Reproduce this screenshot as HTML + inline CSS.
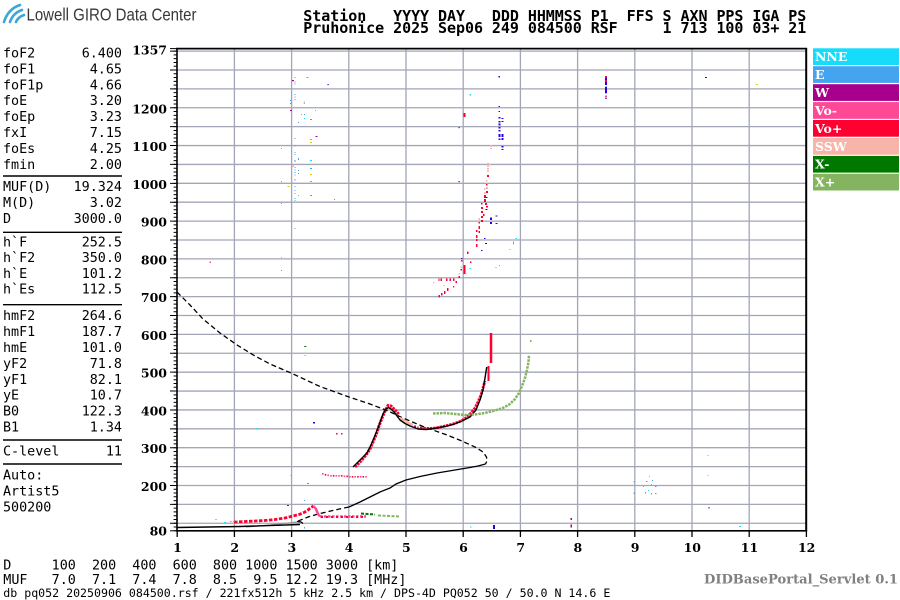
<!DOCTYPE html>
<html><head><meta charset="utf-8"><style>
html,body{margin:0;padding:0;background:#fff;}
svg{display:block;}
.mono{font-family:"DejaVu Sans Mono","Liberation Mono",monospace;font-size:13.4px;fill:#000;}
.ser{font-family:"DejaVu Serif","Liberation Serif",serif;font-weight:bold;font-size:12.5px;fill:#000;}
.r{fill:#ff0030}.p{fill:#ff4896}.s{fill:#f8b4a8}.b{fill:#2800f0}.c{fill:#14dcfa}.e{fill:#44a4f0}.w{fill:#a8008c}.y{fill:#d4d400}.g{fill:#007800}.l{fill:#84b460}.d{fill:#a00020}
</style></head><body>
<svg width="900" height="600" viewBox="0 0 900 600" xmlns="http://www.w3.org/2000/svg">
<rect width="900" height="600" fill="#fff"/>
<!-- logo -->
<g fill="none" stroke="#3ea6d6" stroke-width="2.6" stroke-linecap="round">
<path d="M4,22 Q8,9 20,5"/><path d="M10,22 Q13,13 22,10"/><path d="M16,22 Q18,17 24,15"/>
</g>
<text x="26.5" y="20.7" font-family="'Liberation Sans Narrow','Liberation Sans',sans-serif" font-size="17.5" fill="#383838" textLength="170" lengthAdjust="spacingAndGlyphs">Lowell GIRO Data Center</text>
<!-- header -->
<g font-family="'DejaVu Sans Mono','Liberation Mono',monospace" font-weight="bold" font-size="15" fill="#000" style="white-space:pre">
<text x="303.3" y="21" textLength="503" lengthAdjust="spacing" xml:space="preserve">Station   YYYY DAY   DDD HHMMSS P1  FFS S AXN PPS IGA PS</text>
<text x="303.3" y="33" textLength="503" lengthAdjust="spacing" xml:space="preserve">Pruhonice 2025 Sep06 249 084500 RSF     1 713 100 03+ 21</text>
</g>
<!-- left panel -->
<g class="mono">
<text x="3" y="57.5">foF2</text><text x="122" y="57.5" text-anchor="end">6.400</text>
<text x="3" y="73.4">foF1</text><text x="122" y="73.4" text-anchor="end">4.65</text>
<text x="3" y="89.3">foF1p</text><text x="122" y="89.3" text-anchor="end">4.66</text>
<text x="3" y="105.2">foE</text><text x="122" y="105.2" text-anchor="end">3.20</text>
<text x="3" y="121.1">foEp</text><text x="122" y="121.1" text-anchor="end">3.23</text>
<text x="3" y="137">fxI</text><text x="122" y="137" text-anchor="end">7.15</text>
<text x="3" y="152.9">foEs</text><text x="122" y="152.9" text-anchor="end">4.25</text>
<text x="3" y="168.8">fmin</text><text x="122" y="168.8" text-anchor="end">2.00</text>
<text x="3" y="191.2">MUF(D)</text><text x="122" y="191.2" text-anchor="end">19.324</text>
<text x="3" y="207.1">M(D)</text><text x="122" y="207.1" text-anchor="end">3.02</text>
<text x="3" y="223">D</text><text x="122" y="223" text-anchor="end">3000.0</text>
<text x="3" y="246.5">h`F</text><text x="122" y="246.5" text-anchor="end">252.5</text>
<text x="3" y="262.2">h`F2</text><text x="122" y="262.2" text-anchor="end">350.0</text>
<text x="3" y="277.8">h`E</text><text x="122" y="277.8" text-anchor="end">101.2</text>
<text x="3" y="293.3">h`Es</text><text x="122" y="293.3" text-anchor="end">112.5</text>
<text x="3" y="320.2">hmF2</text><text x="122" y="320.2" text-anchor="end">264.6</text>
<text x="3" y="336.1">hmF1</text><text x="122" y="336.1" text-anchor="end">187.7</text>
<text x="3" y="352">hmE</text><text x="122" y="352" text-anchor="end">101.0</text>
<text x="3" y="367.9">yF2</text><text x="122" y="367.9" text-anchor="end">71.8</text>
<text x="3" y="383.8">yF1</text><text x="122" y="383.8" text-anchor="end">82.1</text>
<text x="3" y="399.7">yE</text><text x="122" y="399.7" text-anchor="end">10.7</text>
<text x="3" y="415.6">B0</text><text x="122" y="415.6" text-anchor="end">122.3</text>
<text x="3" y="431.5">B1</text><text x="122" y="431.5" text-anchor="end">1.34</text>
<text x="3" y="455.5">C-level</text><text x="122" y="455.5" text-anchor="end">11</text>
<text x="3" y="479.5">Auto:</text>
<text x="3" y="495.4">Artist5</text>
<text x="3" y="511.3">500200</text>
</g>
<g stroke="#000" stroke-width="1.4">
<line x1="3" y1="176" x2="122" y2="176"/><line x1="3" y1="232.3" x2="122" y2="232.3"/>
<line x1="3" y1="304.7" x2="122" y2="304.7"/><line x1="3" y1="440" x2="122" y2="440"/>
<line x1="3" y1="464" x2="122" y2="464"/>
</g>
<!-- grid -->
<g stroke="#a2a6b6" stroke-width="1.3">
<line x1="234.4" y1="49" x2="234.4" y2="530"/><line x1="291.6" y1="49" x2="291.6" y2="530"/>
<line x1="348.8" y1="49" x2="348.8" y2="530"/><line x1="406" y1="49" x2="406" y2="530"/>
<line x1="463.2" y1="49" x2="463.2" y2="530"/><line x1="520.4" y1="49" x2="520.4" y2="530"/>
<line x1="577.6" y1="49" x2="577.6" y2="530"/><line x1="634.8" y1="49" x2="634.8" y2="530"/>
<line x1="692" y1="49" x2="692" y2="530"/><line x1="749.2" y1="49" x2="749.2" y2="530"/>
<line x1="177" y1="523.25" x2="806" y2="523.25"/><line x1="177" y1="504.36" x2="806" y2="504.36"/>
<line x1="177" y1="485.48" x2="806" y2="485.48"/><line x1="177" y1="466.59" x2="806" y2="466.59"/>
<line x1="177" y1="447.71" x2="806" y2="447.71"/><line x1="177" y1="428.82" x2="806" y2="428.82"/>
<line x1="177" y1="409.94" x2="806" y2="409.94"/><line x1="177" y1="391.05" x2="806" y2="391.05"/>
<line x1="177" y1="372.17" x2="806" y2="372.17"/><line x1="177" y1="353.28" x2="806" y2="353.28"/>
<line x1="177" y1="334.4" x2="806" y2="334.4"/><line x1="177" y1="315.51" x2="806" y2="315.51"/>
<line x1="177" y1="296.63" x2="806" y2="296.63"/><line x1="177" y1="277.74" x2="806" y2="277.74"/>
<line x1="177" y1="258.86" x2="806" y2="258.86"/><line x1="177" y1="239.97" x2="806" y2="239.97"/>
<line x1="177" y1="221.09" x2="806" y2="221.09"/><line x1="177" y1="202.2" x2="806" y2="202.2"/>
<line x1="177" y1="183.32" x2="806" y2="183.32"/><line x1="177" y1="164.43" x2="806" y2="164.43"/>
<line x1="177" y1="145.55" x2="806" y2="145.55"/><line x1="177" y1="126.66" x2="806" y2="126.66"/>
<line x1="177" y1="107.78" x2="806" y2="107.78"/><line x1="177" y1="88.89" x2="806" y2="88.89"/>
<line x1="177" y1="70.01" x2="806" y2="70.01"/><line x1="177" y1="51.12" x2="806" y2="51.12"/>
</g>
<!-- y ticks -->
<path d="M175.3,531.3 L175.3,50" stroke="#000" stroke-width="3.4" stroke-dasharray="1 2.777" fill="none"/>
<path d="M173.5,523.75 L173.5,50" stroke="#000" stroke-width="7" stroke-dasharray="1 17.885" fill="none"/>
<line x1="170" y1="48.6" x2="177" y2="48.6" stroke="#000" stroke-width="1"/>
<line x1="170" y1="530.8" x2="177" y2="530.8" stroke="#000" stroke-width="1"/>
<g class="ser" text-anchor="end">
<text x="167" y="54.5">1357</text><text x="167" y="113.3">1200</text><text x="167" y="151">1100</text>
<text x="167" y="188.8">1000</text><text x="167" y="226.6">900</text><text x="167" y="264.4">800</text>
<text x="167" y="302.1">700</text><text x="167" y="339.9">600</text><text x="167" y="377.7">500</text>
<text x="167" y="415.4">400</text><text x="167" y="453.2">300</text><text x="167" y="491">200</text>
<text x="167" y="535.5">80</text>
</g>
<!-- x ticks and labels -->
<g stroke="#000" stroke-width="1.3">
<line x1="177.2" y1="530" x2="177.2" y2="537"/><line x1="234.4" y1="530" x2="234.4" y2="537"/>
<line x1="291.6" y1="530" x2="291.6" y2="537"/><line x1="348.8" y1="530" x2="348.8" y2="537"/>
<line x1="406" y1="530" x2="406" y2="537"/><line x1="463.2" y1="530" x2="463.2" y2="537"/>
<line x1="520.4" y1="530" x2="520.4" y2="537"/><line x1="577.6" y1="530" x2="577.6" y2="537"/>
<line x1="634.8" y1="530" x2="634.8" y2="537"/><line x1="692" y1="530" x2="692" y2="537"/>
<line x1="749.2" y1="530" x2="749.2" y2="537"/><line x1="806.4" y1="530" x2="806.4" y2="537"/>
</g>
<g class="ser" text-anchor="middle">
<text x="177.5" y="552">1</text><text x="234.7" y="552">2</text><text x="291.9" y="552">3</text>
<text x="349.1" y="552">4</text><text x="406.3" y="552">5</text><text x="463.5" y="552">6</text>
<text x="520.7" y="552">7</text><text x="577.9" y="552">8</text><text x="635.1" y="552">9</text>
<text x="692.3" y="552">10</text><text x="749.5" y="552">11</text><text x="806.7" y="552">12</text>
</g>
<!-- frame -->
<g stroke="#000" fill="none">
<line x1="176" y1="48.6" x2="807" y2="48.6" stroke-width="1.8"/>
<line x1="177" y1="48" x2="177" y2="531.5" stroke-width="1.6"/>
<line x1="176" y1="530.8" x2="807" y2="530.8" stroke-width="1.6"/>
<line x1="806.2" y1="48" x2="806.2" y2="531.5" stroke-width="2"/>
</g>
<!-- model curves -->
<polyline fill="none" stroke="#000" stroke-width="1.3" stroke-dasharray="5 3" points="177,292 190,305 203,319 220,333 237,345 255,356 270,364 291,373 320,386.5 349,397 370,404 387,410.5 403,418 423,426.5 447,435 463,441.5 476,447.5 483,452 486.5,457 487,461 485.5,464"/>
<polyline fill="none" stroke="#000" stroke-width="1.3" points="485.5,464 478,466 470,467.5 455,470 437,473 420,476.5 406,480 396,484 390,488 380,492 370,497 360,502 349,507"/>
<polyline fill="none" stroke="#000" stroke-width="1.3" stroke-dasharray="5 3" points="349,507 335,510 320,513.5 308,517 297,521.5"/>
<polyline fill="none" stroke="#999" stroke-width="1.3" points="246,527 270,525 297,522"/>
<polyline fill="none" stroke="#000" stroke-width="1.4" points="177,527.5 240,526.5 300,524.5"/>
<polyline fill="none" stroke="#000" stroke-width="1.3" points="297,521.5 301,522 303,523.5"/>
<!-- E region trace -->
<polyline fill="none" stroke="#ff0030" stroke-width="2.8" stroke-dasharray="3.5 1.5" points="234,522 245,521.5 255,521 265,520.5 275,519.5 285,518 293,516 299,514.5 304,512.5 308,510 311,507.5 313.5,506"/>
<polyline fill="none" stroke="#ff4896" stroke-width="2.5" points="313.5,506 316,509 318,514 320,516.5"/>
<polyline fill="none" stroke="#ff4896" stroke-width="2.6" stroke-dasharray="2.5 1.5" points="320,516.5 366,516.5"/>
<polyline fill="none" stroke="#ff0030" stroke-width="2" stroke-dasharray="2 3" points="321,517 366,517"/>
<polyline fill="none" stroke="#007800" stroke-width="2" stroke-dasharray="3 1.5" points="361,513.5 368,514 375,514.5"/>
<polyline fill="none" stroke="#84b460" stroke-width="2" stroke-dasharray="3 1.5" points="378,515.5 390,516 400,516.5"/>
<!-- Vo- trace ~475 -->
<g>
<rect class="p" x="322" y="473" width="1.6" height="1.6"/><rect class="r" x="324.7" y="474" width="1.6" height="1.6"/>
<rect class="p" x="327.4" y="474.5" width="1.6" height="1.6"/><rect class="p" x="330.1" y="475" width="1.6" height="1.6"/>
<rect class="r" x="332.8" y="475" width="1.6" height="1.6"/><rect class="p" x="335.5" y="475" width="1.6" height="1.6"/>
<rect class="p" x="338.2" y="475" width="1.6" height="1.6"/><rect class="r" x="340.9" y="475" width="1.6" height="1.6"/>
<rect class="p" x="343.6" y="475.5" width="1.6" height="1.6"/><rect class="r" x="346.3" y="475.5" width="1.6" height="1.6"/>
<rect class="p" x="349" y="476" width="1.6" height="1.6"/><rect class="r" x="351.7" y="476" width="1.6" height="1.6"/>
<rect class="p" x="354.4" y="476" width="1.6" height="1.6"/><rect class="r" x="357.1" y="476" width="1.6" height="1.6"/>
<rect class="p" x="359.8" y="476" width="1.6" height="1.6"/><rect class="r" x="362.5" y="476" width="1.6" height="1.6"/>
<rect class="p" x="365.2" y="476" width="1.6" height="1.6"/>
</g>
<!-- F trace -->
<polyline fill="none" stroke="#ff0030" stroke-width="3" stroke-dasharray="2.5 0.8" points="355,467 361,461 366,455 370,449 373,442 376,435 379,426 382,418 385,411 388,405.5 391,406 394,409 397,412 399,415"/>
<polyline fill="none" stroke="#f8b4a8" stroke-width="2.6" points="400,418 405,421 410,424 413,425"/>
<rect class="w" x="414" y="425.5" width="2" height="2"/><rect class="p" x="417" y="426.5" width="2" height="2"/>
<polyline fill="none" stroke="#ff0030" stroke-width="2.8" stroke-dasharray="2.5 0.8" points="420,428 428,428.5 436,428 445,426 453,424 460,421.5 466,418 471,413 475,408 478,402 481,395 483,388 485,381"/>
<line x1="488.5" y1="366" x2="488.5" y2="381" stroke="#ff0030" stroke-width="2"/>
<line x1="491" y1="333" x2="491" y2="363" stroke="#ff0030" stroke-width="2.5"/>
<polyline fill="none" stroke="#000" stroke-width="1.4" stroke-linejoin="round" points="353,467 360,460 367,453 371,445 374,438 378,428 383,414 386,409 388.5,407.5 391,409 394,412 397,416 400,420 405,423.5 410,426 418,429 426,429.5 434,428.5 445,426.5 453,424.5 462,421 470,417 476,410 480,400 483,390 485,378 486.7,367"/>
<polyline fill="none" stroke="#84b460" stroke-width="2.5" stroke-dasharray="2.5 1" points="433,413.5 445,413 455,414 465,415 475,414.5 485,413 495,410.5 503,408 510,404 515,399 519,393 522,386 525,378 527,370 528.5,362 529,355"/>
<rect class="l" x="530" y="340" width="1.5" height="2"/>
<!-- upper F2 (2-hop) -->
<g>
<rect class="r" x="463.5" y="113" width="2" height="4"/><rect class="d" x="458.5" y="127" width="1.2" height="1.2"/>
<rect class="d" x="458.5" y="181" width="1.2" height="1.2"/><rect class="c" x="469.5" y="94" width="1.5" height="1.5"/>
<rect class="b" x="498.5" y="76" width="1.5" height="1.5"/>
<rect class="b" x="498.5" y="106" width="1.5" height="1"/><rect class="b" x="498.5" y="111" width="1.5" height="1"/>
<rect class="b" x="498.5" y="117" width="2" height="1.5"/><rect class="b" x="501.5" y="118" width="2" height="1"/>
<rect class="b" x="498.5" y="121" width="2" height="1.5"/><rect class="b" x="501.5" y="121" width="2" height="1"/>
<rect class="b" x="498.5" y="123.5" width="2" height="2"/><rect class="b" x="498.5" y="127" width="2" height="1.5"/>
<rect class="b" x="498.5" y="130" width="2" height="1.5"/><rect class="b" x="498.5" y="134" width="2" height="3"/>
<rect class="b" x="501.5" y="134" width="2" height="3"/><rect class="b" x="501.5" y="138" width="2" height="2"/>
<rect class="b" x="498.5" y="138.5" width="2" height="1.5"/><rect class="b" x="501.5" y="146" width="2" height="1.5"/>
<rect class="b" x="501.5" y="149" width="2" height="1"/>
<rect class="s" x="490" y="145" width="2" height="2"/><rect class="s" x="490" y="148" width="2" height="1"/>
<rect class="s" x="487" y="163" width="2" height="1.5"/><rect class="s" x="487" y="165.5" width="2" height="1.5"/>
<rect class="s" x="489" y="164" width="2" height="1.5"/><rect class="s" x="487" y="168" width="2" height="1.5"/>
<rect class="s" x="487" y="170.5" width="2" height="1.5"/><rect class="r" x="487" y="175" width="2" height="2"/>
<rect class="s" x="486" y="180" width="1.5" height="1.5"/><rect class="r" x="486" y="184" width="1.5" height="1.5"/>
<rect class="s" x="486" y="187" width="2" height="2"/><rect class="r" x="486" y="191" width="2" height="2"/>
<rect class="s" x="484" y="188" width="1.5" height="2"/><rect class="s" x="484" y="192" width="1.5" height="2"/>
<rect class="r" x="484" y="195" width="2" height="3"/><rect class="r" x="484" y="199" width="2" height="3"/>
<rect class="r" x="485" y="203" width="2" height="2"/><rect class="r" x="486" y="206" width="2" height="1.5"/>
<rect class="b" x="485.5" y="197" width="2" height="1"/><rect class="b" x="485.5" y="209" width="2" height="1"/>
<rect class="r" x="481" y="203" width="1.5" height="1.5"/><rect class="r" x="481" y="207" width="2" height="2"/>
<rect class="r" x="481" y="211" width="2" height="2"/><rect class="r" x="483" y="214" width="1.5" height="2"/>
<rect class="r" x="481" y="216" width="2" height="2"/><rect class="r" x="481" y="220" width="2" height="2"/>
<rect class="b" x="490" y="217.5" width="2" height="2.5"/><rect class="b" x="490" y="222" width="2" height="2"/>
<rect class="b" x="495.5" y="215.5" width="2" height="1"/><rect class="b" x="495.5" y="223" width="2" height="1"/>
<rect class="s" x="478.5" y="218" width="1.5" height="2"/><rect class="r" x="478.5" y="222" width="1.5" height="1.5"/>
<rect class="r" x="478.5" y="226" width="1.5" height="3"/><rect class="r" x="478.5" y="231" width="1.5" height="2"/>
<rect class="r" x="476" y="230" width="1.5" height="2"/><rect class="r" x="476" y="235" width="1.5" height="3"/>
<rect class="r" x="476" y="239" width="1.5" height="2"/><rect class="r" x="476" y="244" width="1.5" height="3"/>
<rect class="b" x="484" y="238" width="1.5" height="1"/><rect class="b" x="485" y="243" width="2" height="1"/>
<rect class="b" x="481" y="250" width="1.5" height="1"/>
<rect class="r" x="467" y="251.5" width="1.5" height="2.5"/><rect class="r" x="470" y="261.5" width="1.5" height="1.5"/>
<rect class="b" x="461" y="258" width="1.5" height="1"/><rect class="r" x="461" y="260" width="1.5" height="1.5"/>
<rect class="r" x="463.5" y="265" width="2" height="9"/><rect class="s" x="460.5" y="266.5" width="1.5" height="1.5"/>
<rect class="r" x="460.5" y="269" width="1.5" height="1.5"/><rect class="s" x="458.5" y="273" width="1.5" height="1.5"/>
<rect class="r" x="458.5" y="276" width="1.5" height="2"/>
<rect class="r" x="453" y="278.5" width="1.5" height="2.5"/><rect class="r" x="449.5" y="278.5" width="1.5" height="2.5"/>
<rect class="r" x="446" y="278.5" width="1.5" height="2.5"/><rect class="r" x="440.5" y="278.5" width="1.5" height="2.5"/>
<rect class="r" x="438.5" y="278.5" width="1" height="2.5"/><rect class="s" x="433" y="282" width="1.5" height="1.2"/>
<rect class="s" x="443.5" y="285" width="1.5" height="1.2"/><rect class="r" x="455.5" y="281" width="1.5" height="2"/>
<rect class="r" x="453" y="286" width="1.2" height="1.5"/><rect class="r" x="447" y="288" width="1.5" height="3"/>
<rect class="r" x="444" y="291" width="1.5" height="3"/><rect class="r" x="441" y="293" width="1.5" height="2.5"/>
<rect class="r" x="438.5" y="295" width="1.5" height="2.5"/>
<rect class="c" x="515.5" y="238" width="1.5" height="1"/><rect class="l" x="513" y="241.5" width="1" height="3"/>
<rect class="l" x="509.5" y="249" width="1" height="1"/><rect class="l" x="499" y="265" width="1" height="1"/>
<rect class="l" x="495.5" y="267" width="1" height="1"/><rect class="c" x="469.5" y="268" width="1.5" height="1"/>
</g>
<!-- 3 MHz scatter -->
<g>
<rect class="e" x="294.5" y="77" width="1" height="1"/><rect class="e" x="306.5" y="77" width="2" height="1"/>
<rect class="w" x="292" y="80" width="2" height="1.2"/><rect class="e" x="294.5" y="81.5" width="1" height="1"/>
<rect class="e" x="294.5" y="83.5" width="1" height="1"/><rect class="b" x="327.5" y="84" width="1.2" height="1.2"/>
<rect class="e" x="294.5" y="94" width="1" height="1"/><rect class="e" x="294.5" y="96.5" width="1" height="1"/>
<rect class="e" x="294.5" y="99" width="1" height="1"/><rect class="e" x="290" y="100" width="1.5" height="1"/>
<rect class="e" x="290" y="103" width="1.5" height="1"/><rect class="e" x="303.8" y="101.5" width="1" height="1"/>
<rect class="e" x="303.8" y="103" width="1" height="1"/><rect class="w" x="290" y="110" width="2" height="1"/>
<rect class="c" x="315" y="110" width="1" height="1"/><rect class="c" x="301" y="114" width="1" height="1"/>
<rect class="e" x="304" y="114" width="1" height="1"/><rect class="c" x="304" y="118" width="1" height="1"/>
<rect class="e" x="310" y="119" width="2" height="1"/><rect class="e" x="298" y="122" width="1" height="1"/>
<rect class="w" x="315.5" y="136" width="2" height="1"/><rect class="e" x="294.5" y="138" width="1" height="1"/>
<rect class="c" x="310" y="139" width="2" height="1"/><rect class="y" x="310" y="142" width="2" height="1"/>
<rect class="e" x="294.5" y="145.5" width="1" height="1"/><rect class="e" x="281" y="148" width="1" height="1"/>
<rect class="e" x="294.5" y="152" width="1" height="1"/><rect class="e" x="294.5" y="154" width="1" height="1"/>
<rect class="e" x="298" y="158" width="1" height="2"/><rect class="e" x="294.5" y="160" width="1" height="2"/>
<rect class="c" x="310" y="160" width="2" height="1"/><rect class="s" x="292" y="165.5" width="2" height="1.5"/>
<rect class="e" x="294.5" y="167" width="1" height="1"/><rect class="e" x="294.5" y="169.5" width="1" height="1"/>
<rect class="e" x="298" y="170" width="1" height="1"/><rect class="e" x="298" y="173" width="1" height="1"/>
<rect class="e" x="310" y="168" width="2" height="1"/><rect class="e" x="294.5" y="172" width="1" height="1"/>
<rect class="e" x="294.5" y="174.5" width="1" height="1"/><rect class="y" x="310" y="174" width="2" height="1"/>
<rect class="e" x="294.5" y="179" width="1" height="1.5"/><rect class="e" x="281" y="181" width="1" height="1"/>
<rect class="c" x="310" y="181" width="2" height="1"/><rect class="y" x="287.5" y="186" width="2" height="1"/>
<rect class="e" x="294.5" y="186" width="1" height="1"/><rect class="e" x="294.5" y="190" width="1" height="1"/>
<rect class="e" x="294.5" y="193" width="1" height="1"/><rect class="c" x="298" y="195" width="1" height="1"/>
<rect class="e" x="310" y="195" width="2" height="1"/><rect class="e" x="294.5" y="198" width="1" height="1"/>
<rect class="c" x="294.5" y="200" width="1" height="1"/><rect class="e" x="334" y="199" width="1" height="1"/>
<rect class="e" x="281" y="203" width="1" height="1"/><rect class="e" x="294.5" y="228" width="1" height="1"/>
<rect class="y" x="281" y="257" width="1" height="1"/><rect class="e" x="281" y="270" width="1" height="1"/>
<rect class="p" x="209.5" y="261.5" width="1.5" height="1.5"/>
</g>
<!-- misc scatter -->
<g>
<rect class="r" x="605" y="76" width="2" height="1.7"/><rect class="b" x="605" y="77.7" width="2" height="2.3"/>
<rect class="r" x="605" y="80" width="2" height="1.3"/><rect class="b" x="605" y="81.3" width="2" height="3.7"/>
<rect class="b" x="605" y="86.7" width="2" height="6.6"/><rect class="r" x="605" y="95.7" width="2" height="1"/>
<rect class="b" x="605" y="97.7" width="2" height="1"/>
<rect class="b" x="705" y="77" width="2" height="1"/><rect class="y" x="755.7" y="84" width="2" height="1"/>
<rect class="c" x="633.5" y="481" width="1" height="1.5"/><rect class="e" x="633.5" y="492.5" width="1" height="1.5"/>
<rect class="c" x="649" y="476" width="1" height="1"/><rect class="e" x="646" y="481" width="1.5" height="1"/>
<rect class="c" x="651" y="484" width="1" height="1"/><rect class="e" x="655" y="486" width="1.5" height="1"/>
<rect class="e" x="645" y="492" width="1" height="1.5"/><rect class="c" x="648" y="490" width="1" height="1"/>
<rect class="e" x="651" y="493" width="1" height="1.5"/><rect class="e" x="655" y="493" width="1.5" height="1"/>
<rect class="e" x="652" y="480" width="1" height="1"/><rect class="c" x="643" y="486" width="1" height="1"/>
<rect class="c" x="707.5" y="455" width="1" height="1"/><rect class="c" x="707.5" y="475" width="1" height="1"/>
<rect class="b" x="708.5" y="507" width="1" height="1.5"/><rect class="c" x="739" y="526" width="2" height="1"/>
<rect class="w" x="570.5" y="518" width="1.5" height="2"/><rect class="w" x="570.5" y="524.5" width="1.5" height="3"/>
<rect class="b" x="493" y="525" width="2" height="4"/><rect class="c" x="470" y="526.5" width="1.5" height="1"/>
<rect class="y" x="215" y="519" width="2" height="1"/><rect class="c" x="224" y="522" width="2" height="1"/>
<rect class="c" x="230" y="521" width="1.5" height="1"/><rect class="c" x="233" y="521" width="1.5" height="1"/>
<rect class="l" x="236" y="520.5" width="2" height="1"/>
<rect class="c" x="256" y="428" width="2" height="1.5"/><rect class="b" x="313" y="422" width="2" height="1.5"/>
<rect class="e" x="290.5" y="447" width="1" height="1"/><rect class="e" x="290.5" y="475" width="1" height="1"/>
<rect class="e" x="307" y="483" width="2" height="1"/><rect class="e" x="304" y="500" width="1" height="1"/>
<rect class="w" x="287" y="505" width="2" height="1"/><rect class="e" x="304" y="527" width="1" height="1.5"/>
<rect class="g" x="304.3" y="346" width="2" height="1"/><rect class="y" x="304.3" y="355" width="2" height="1"/>
<rect class="r" x="336" y="433" width="1.5" height="1.5"/><rect class="r" x="341" y="433" width="1.5" height="1.5"/>
</g>
<!-- legend -->
<g font-family="'DejaVu Serif','Liberation Serif',serif" font-weight="bold" font-size="12.5" fill="#fff">
<rect x="813" y="48.3" width="86" height="16.7" fill="#14dcfa"/><text x="815" y="61">NNE</text>
<rect x="813" y="66.2" width="86" height="16.7" fill="#44a4f0"/><text x="815" y="79">E</text>
<rect x="813" y="84.2" width="86" height="16.7" fill="#a8008c"/><text x="815" y="97">W</text>
<rect x="813" y="102.1" width="86" height="16.7" fill="#ff4896"/><text x="815" y="115">Vo-</text>
<rect x="813" y="120" width="86" height="16.7" fill="#ff0030"/><text x="815" y="133">Vo+</text>
<rect x="813" y="138" width="86" height="16.7" fill="#f8b4a8"/><text x="815" y="151">SSW</text>
<rect x="813" y="155.9" width="86" height="16.7" fill="#007800"/><text x="815" y="168.7">X-</text>
<rect x="813" y="173.8" width="86" height="16.7" fill="#84b460"/><text x="815" y="186.6">X+</text>
</g>
<!-- bottom text -->
<g class="mono" style="white-space:pre">
<text x="3.3" y="569.5" xml:space="preserve">D     100  200  400  600  800 1000 1500 3000 [km]</text>
<text x="3.3" y="584" xml:space="preserve">MUF   7.0  7.1  7.4  7.8  8.5  9.5 12.2 19.3 [MHz]</text>
</g>
<text x="3.3" y="597" font-family="'DejaVu Sans Mono','Liberation Mono',monospace" font-size="11.6" fill="#000" textLength="607" lengthAdjust="spacing">db pq052 20250906 084500.rsf / 221fx512h 5 kHz 2.5 km / DPS-4D PQ052 50 / 50.0 N 14.6 E</text>
<text x="704" y="583.5" font-family="'DejaVu Serif','Liberation Serif',serif" font-weight="bold" font-size="13" fill="#808080" textLength="194" lengthAdjust="spacingAndGlyphs">DIDBasePortal_Servlet 0.1</text>
</svg>
</body></html>
